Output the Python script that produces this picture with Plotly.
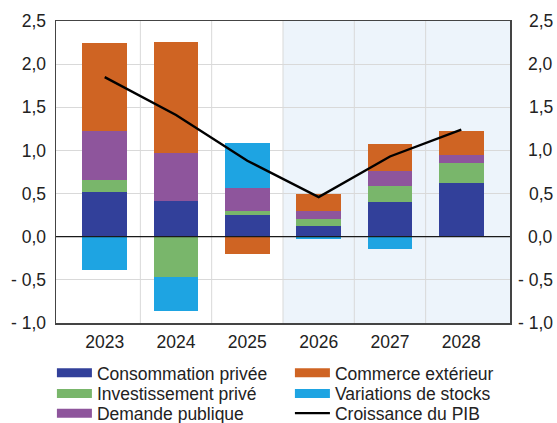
import plotly.graph_objects as go

years = ["2023", "2024", "2025", "2026", "2027", "2028"]
consommation = [0.52, 0.41, 0.25, 0.13, 0.40, 0.62]
investissement = [0.14, -0.47, 0.05, 0.07, 0.19, 0.23]
demande_pub = [0.56, 0.56, 0.27, 0.10, 0.17, 0.10]
commerce_ext = [1.03, 1.29, -0.20, 0.20, 0.31, 0.28]
stocks = [-0.39, -0.39, 0.52, -0.03, -0.14, 0.00]
pib = [1.85, 1.41, 0.88, 0.46, 0.93, 1.24]

ytick_vals = [2.5, 2.0, 1.5, 1.0, 0.5, 0.0, -0.5, -1.0]
ytick_text = ["2,5", "2,0", "1,5", "1,0", "0,5", "0,0", "- 0,5", "- 1,0"]

# name, values, colour, legend id
series = [
    ("Consommation privée", consommation, "#32409a", "legend"),
    ("Investissement privé", investissement, "#79b66b", "legend2"),
    ("Demande publique", demande_pub, "#8e559c", "legend3"),
    ("Commerce extérieur", commerce_ext, "#cf6423", "legend"),
    ("Variations de stocks", stocks, "#1ea4e2", "legend2"),
]

xpos = list(range(len(years)))
xr = [-0.683, len(years) - 1 + 0.683]
FONT = "Liberation Sans, Arial, sans-serif"
FS = 17.5
TXT = "#222222"

fig = go.Figure()
for name, vals, color, lg in series:
    fig.add_trace(go.Bar(x=xpos, y=vals, name=name, marker=dict(color=color, line=dict(width=0)),
                         width=0.63, showlegend=False, hoverinfo="skip"))
for name, vals, color, lg in series:
    fig.add_trace(go.Scatter(x=[None], y=[None], mode="lines", name=name,
                             line=dict(color=color, width=9), legend=lg))
fig.add_trace(go.Scatter(x=xpos, y=pib, mode="lines", name="Croissance du PIB",
                         line=dict(color="black", width=2.4), legend="legend3", hoverinfo="skip"))

shapes = [dict(type="rect", xref="x", yref="paper", x0=2.5, x1=xr[1], y0=0, y1=1,
               fillcolor="#edf4fb", line=dict(width=0), layer="below")]
for i in range(len(years) - 1):
    shapes.append(dict(type="line", xref="x", yref="paper", x0=i + 0.5, x1=i + 0.5, y0=0, y1=1,
                       line=dict(color="#d9d9d9", width=1), layer="below"))
shapes.append(dict(type="line", xref="paper", yref="y", x0=0, x1=1, y0=0, y1=0,
                   line=dict(color="#1a1a1a", width=1.2)))

# right-hand tick labels (right aligned)
annotations = [dict(xref="paper", yref="y", x=1.1, y=v, text=t, showarrow=False,
                    xanchor="right", yanchor="middle",
                    font=dict(family=FONT, size=FS, color=TXT))
               for v, t in zip(ytick_vals, ytick_text)]

legend_common = dict(orientation="h", x=-0.009, xanchor="left", yanchor="middle",
                     font=dict(family=FONT, size=FS, color=TXT),
                     entrywidth=188, entrywidthmode="pixels", itemwidth=35,
                     bgcolor="rgba(0,0,0,0)", traceorder="normal")

fig.update_layout(
    width=557, height=423,
    margin=dict(l=56, r=47, t=21, b=100, autoexpand=False),
    paper_bgcolor="white", plot_bgcolor="rgba(0,0,0,0)",
    barmode="relative", bargap=0,
    hovermode=False,
    font=dict(family=FONT, size=FS, color=TXT),
    xaxis=dict(range=xr, tickvals=xpos, ticktext=years, showgrid=False, zeroline=False,
               showline=True, mirror=True, linecolor="#444444", linewidth=1.5,
               tickfont=dict(family=FONT, size=FS, color=TXT), ticks="", ticklabelstandoff=2),
    yaxis=dict(range=[-1.0, 2.5], tickvals=ytick_vals, ticktext=ytick_text,
               tickfont=dict(family=FONT, size=FS, color=TXT),
               showgrid=True, gridcolor="#d9d9d9", gridwidth=1, zeroline=False,
               showline=True, mirror=True, linecolor="#444444", linewidth=1.5, ticks="",
               ticklabelstandoff=5),
    shapes=shapes,
    annotations=annotations,
    legend=dict(**legend_common, y=-0.165),
    legend2=dict(**legend_common, y=-0.234),
    legend3=dict(**legend_common, y=-0.299),
)
fig.write_html("out.html", config={"displayModeBar": False, "staticPlot": True})

# remove the default page margin so the figure sits at the window's corner
with open("out.html", "r", encoding="utf-8") as f:
    html = f.read()
html = html.replace("<head>", "<head><style>html,body{margin:0;padding:0;overflow:hidden;}</style>", 1)
with open("out.html", "w", encoding="utf-8") as f:
    f.write(html)
